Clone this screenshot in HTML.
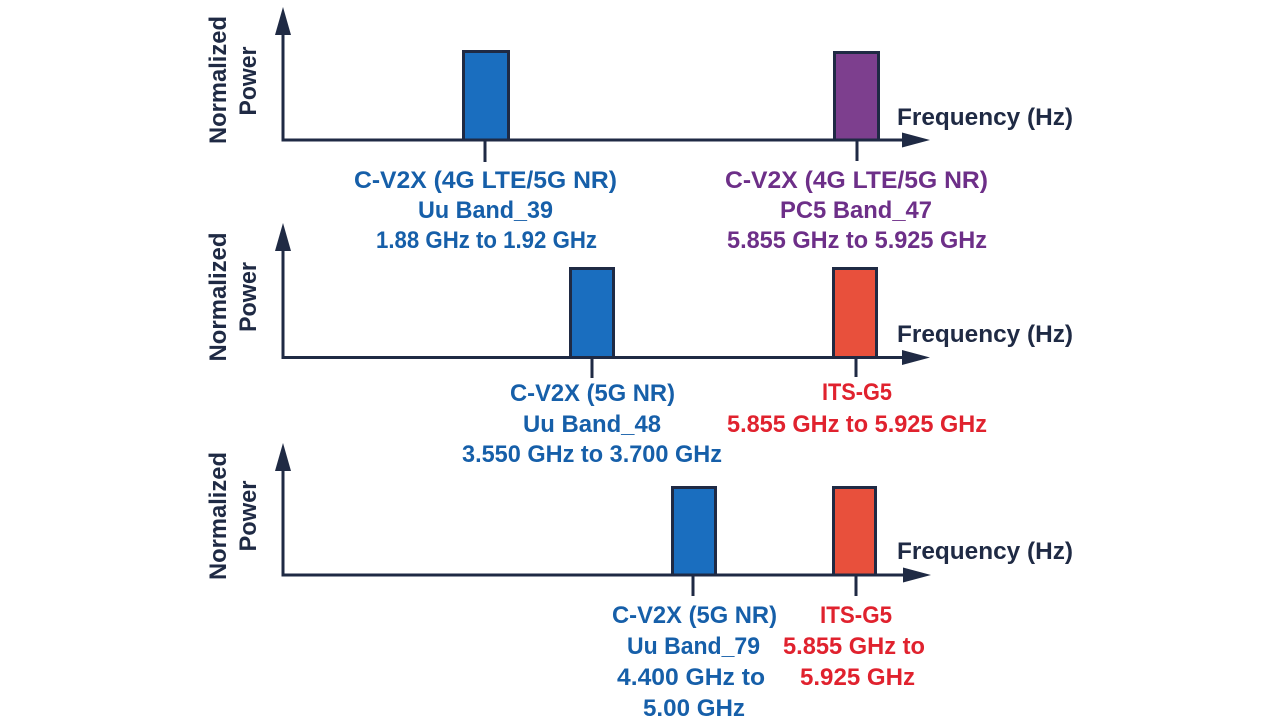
<!DOCTYPE html>
<html>
<head>
<meta charset="utf-8">
<style>
  html,body{margin:0;padding:0;background:#ffffff;}
  svg{display:block;}
  text{font-family:"Liberation Sans","DejaVu Sans",sans-serif;font-weight:bold;font-size:24px;}
  .ax{fill:#1f2a44;}
  .bl{fill:#165fa9;}
  .pu{fill:#6d2f88;}
  .rd{fill:#e0222e;}
</style>
</head>
<body>
<svg width="1280" height="721" viewBox="0 0 1280 721" xmlns="http://www.w3.org/2000/svg">
  <rect width="1280" height="721" fill="#ffffff"/>

  <!-- ============ PANEL 1 ============ -->
  <g>
    <text class="ax" transform="translate(226,80) rotate(-90)" text-anchor="middle" textLength="128" lengthAdjust="spacingAndGlyphs">Normalized</text>
    <text class="ax" transform="translate(256,81) rotate(-90)" text-anchor="middle" textLength="69" lengthAdjust="spacingAndGlyphs">Power</text>
    <!-- bars -->
    <rect x="463.5" y="51.5" width="45" height="88.5" fill="#1a6ebf" stroke="#1f2a44" stroke-width="3"/>
    <rect x="834.5" y="52.5" width="44" height="87.5" fill="#7d3f8e" stroke="#1f2a44" stroke-width="3"/>
    <!-- axes -->
    <line x1="283" y1="30" x2="283" y2="141.5" stroke="#1f2a44" stroke-width="3"/>
    <polygon points="283,7 275,35 291,35" fill="#1f2a44"/>
    <line x1="281.5" y1="140" x2="905" y2="140" stroke="#1f2a44" stroke-width="3"/>
    <polygon points="930,140 902,132.5 902,147.5" fill="#1f2a44"/>
    <!-- ticks -->
    <line x1="485" y1="140" x2="485" y2="162" stroke="#1f2a44" stroke-width="3"/>
    <line x1="857" y1="140" x2="857" y2="161" stroke="#1f2a44" stroke-width="3"/>
    <text class="ax" x="897" y="125" textLength="176" lengthAdjust="spacingAndGlyphs">Frequency (Hz)</text>
    <!-- labels -->
    <text class="bl" x="354" y="188" textLength="263" lengthAdjust="spacingAndGlyphs">C-V2X (4G LTE/5G NR)</text>
    <text class="bl" x="418" y="218" textLength="135" lengthAdjust="spacingAndGlyphs">Uu Band_39</text>
    <text class="bl" x="376" y="248" textLength="221" lengthAdjust="spacingAndGlyphs">1.88 GHz to 1.92 GHz</text>
    <text class="pu" x="725" y="188" textLength="263" lengthAdjust="spacingAndGlyphs">C-V2X (4G LTE/5G NR)</text>
    <text class="pu" x="780" y="218" textLength="152" lengthAdjust="spacingAndGlyphs">PC5 Band_47</text>
    <text class="pu" x="727" y="248" textLength="260" lengthAdjust="spacingAndGlyphs">5.855 GHz to 5.925 GHz</text>
  </g>

  <!-- ============ PANEL 2 ============ -->
  <g>
    <text class="ax" transform="translate(226,297) rotate(-90)" text-anchor="middle" textLength="129" lengthAdjust="spacingAndGlyphs">Normalized</text>
    <text class="ax" transform="translate(256,297) rotate(-90)" text-anchor="middle" textLength="70" lengthAdjust="spacingAndGlyphs">Power</text>
    <rect x="570.5" y="268.5" width="43" height="89" fill="#1a6ebf" stroke="#1f2a44" stroke-width="3"/>
    <rect x="833.5" y="268.5" width="43" height="89" fill="#e8503c" stroke="#1f2a44" stroke-width="3"/>
    <line x1="283" y1="245" x2="283" y2="359" stroke="#1f2a44" stroke-width="3"/>
    <polygon points="283,223 275,251 291,251" fill="#1f2a44"/>
    <line x1="281.5" y1="357.5" x2="905" y2="357.5" stroke="#1f2a44" stroke-width="3"/>
    <polygon points="930,357.5 902,350 902,365" fill="#1f2a44"/>
    <line x1="592" y1="357" x2="592" y2="378" stroke="#1f2a44" stroke-width="3"/>
    <line x1="856" y1="357" x2="856" y2="377" stroke="#1f2a44" stroke-width="3"/>
    <text class="ax" x="897" y="342" textLength="176" lengthAdjust="spacingAndGlyphs">Frequency (Hz)</text>
    <text class="bl" x="510" y="401" textLength="165" lengthAdjust="spacingAndGlyphs">C-V2X (5G NR)</text>
    <text class="bl" x="523" y="432" textLength="138" lengthAdjust="spacingAndGlyphs">Uu Band_48</text>
    <text class="bl" x="462" y="462" textLength="260" lengthAdjust="spacingAndGlyphs">3.550 GHz to 3.700 GHz</text>
    <text class="rd" x="822" y="400" textLength="70" lengthAdjust="spacingAndGlyphs">ITS-G5</text>
    <text class="rd" x="727" y="432" textLength="260" lengthAdjust="spacingAndGlyphs">5.855 GHz to 5.925 GHz</text>
  </g>

  <!-- ============ PANEL 3 ============ -->
  <g>
    <text class="ax" transform="translate(226,516) rotate(-90)" text-anchor="middle" textLength="128" lengthAdjust="spacingAndGlyphs">Normalized</text>
    <text class="ax" transform="translate(256,516) rotate(-90)" text-anchor="middle" textLength="71" lengthAdjust="spacingAndGlyphs">Power</text>
    <rect x="672.5" y="487.5" width="43" height="87.5" fill="#1a6ebf" stroke="#1f2a44" stroke-width="3"/>
    <rect x="833.5" y="487.5" width="42" height="87.5" fill="#e8503c" stroke="#1f2a44" stroke-width="3"/>
    <line x1="283" y1="465" x2="283" y2="576.5" stroke="#1f2a44" stroke-width="3"/>
    <polygon points="283,443 275,471 291,471" fill="#1f2a44"/>
    <line x1="281.5" y1="575" x2="905" y2="575" stroke="#1f2a44" stroke-width="3"/>
    <polygon points="931,575 903,567.5 903,582.5" fill="#1f2a44"/>
    <line x1="693" y1="575" x2="693" y2="596" stroke="#1f2a44" stroke-width="3"/>
    <line x1="856" y1="575" x2="856" y2="596" stroke="#1f2a44" stroke-width="3"/>
    <text class="ax" x="897" y="559" textLength="176" lengthAdjust="spacingAndGlyphs">Frequency (Hz)</text>
    <text class="bl" x="612" y="623" textLength="165" lengthAdjust="spacingAndGlyphs">C-V2X (5G NR)</text>
    <text class="bl" x="627" y="654" textLength="133" lengthAdjust="spacingAndGlyphs">Uu Band_79</text>
    <text class="bl" x="617" y="685" textLength="148" lengthAdjust="spacingAndGlyphs">4.400 GHz to</text>
    <text class="bl" x="643" y="716" textLength="102" lengthAdjust="spacingAndGlyphs">5.00 GHz</text>
    <text class="rd" x="820" y="623" textLength="72" lengthAdjust="spacingAndGlyphs">ITS-G5</text>
    <text class="rd" x="783" y="654" textLength="142" lengthAdjust="spacingAndGlyphs">5.855 GHz to</text>
    <text class="rd" x="800" y="685" textLength="115" lengthAdjust="spacingAndGlyphs">5.925 GHz</text>
  </g>
</svg>
</body>
</html>
